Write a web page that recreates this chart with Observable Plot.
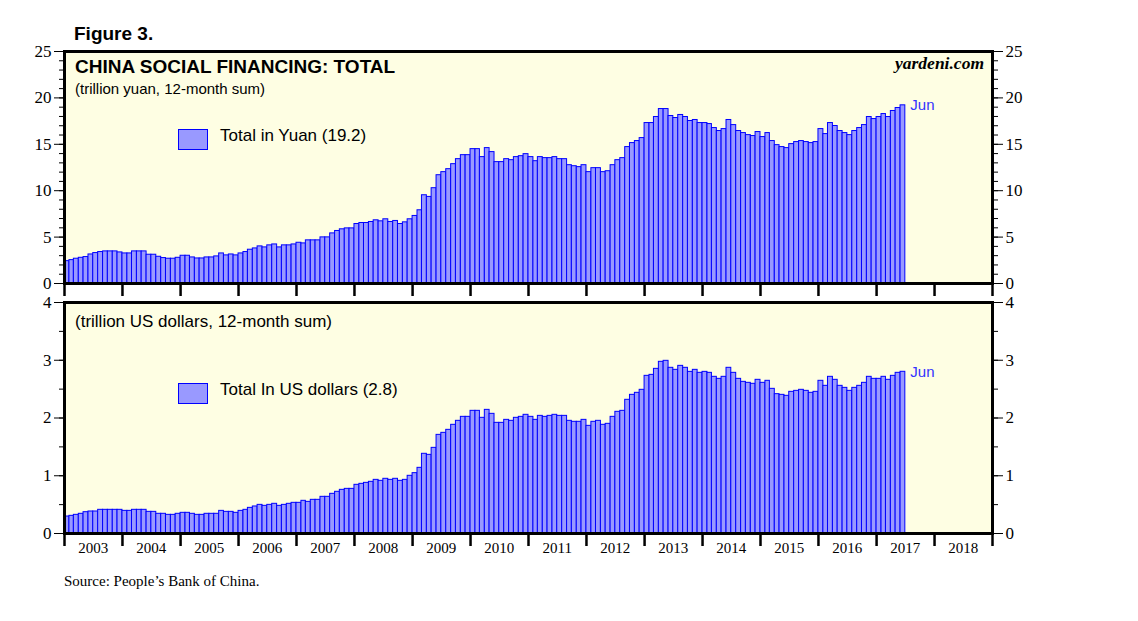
<!DOCTYPE html>
<html><head><meta charset="utf-8">
<script src="https://cdn.jsdelivr.net/npm/d3@7"></script>
<script src="https://cdn.jsdelivr.net/npm/@observablehq/plot@0.6"></script>
<style>
body{margin:0;background:#fff;}
#wrap{position:relative;width:1138px;height:621px;overflow:hidden;background:#fff;font-family:Arial,"Liberation Sans",sans-serif;}
.abs{position:absolute;white-space:nowrap;line-height:1;}
.swatch{position:absolute;width:28px;height:19px;background:#9999FF;border:1px solid #0000FF;}
#p1,#p2{position:absolute;left:0;}
#wrap svg g[aria-label="y-axis tick label"]{font-size:17px;}
#wrap svg g[aria-label="x-axis tick label"]{font-size:15px;}
</style></head><body>
<div id="wrap">
  <div id="p1" style="top:0"></div>
  <div id="p2" style="top:298px"></div>
  <div class="abs" style="left:74px;top:24px;font-size:19px;font-weight:bold;">Figure 3.</div>
  <div class="abs" style="left:75px;top:57px;font-size:19px;font-weight:bold;">CHINA SOCIAL FINANCING: TOTAL</div>
  <div class="abs" style="left:75px;top:81px;font-size:15px;">(trillion yuan, 12-month sum)</div>
  <div class="abs" style="right:154px;top:55px;font-size:17.5px;font-weight:bold;font-style:italic;font-family:'Liberation Serif','Times New Roman',serif;">yardeni.com</div>
  <div class="swatch" style="left:178px;top:129px;"></div>
  <div class="abs" style="left:220px;top:127px;font-size:17px;">Total in Yuan (19.2)</div>
  <div class="abs" style="left:75px;top:313px;font-size:17px;">(trillion US dollars, 12-month sum)</div>
  <div class="swatch" style="left:178px;top:383px;"></div>
  <div class="abs" style="left:220px;top:381px;font-size:17px;">Total In US dollars (2.8)</div>
  <div class="abs" style="left:64px;top:574px;font-size:15px;font-family:'Liberation Serif','Times New Roman',serif;">Source: People’s Bank of China.</div>
</div>
<script>
const firstMonth = "2003-01-01";
const yuanValues = [
 2.41, 2.52, 2.67, 2.77, 2.85, 3.13, 3.28, 3.39, 3.46, 3.46, 3.46, 3.35,
 3.24, 3.24, 3.46, 3.46, 3.46, 3.10, 3.10, 2.88, 2.74, 2.67, 2.67, 2.77,
 2.99, 2.99, 2.81, 2.70, 2.70, 2.81, 2.81, 2.92, 3.24, 3.03, 3.13, 3.03,
 3.24, 3.39, 3.64, 3.78, 4.00, 3.89, 4.11, 4.21, 3.89, 4.11, 4.11, 4.21,
 4.39, 4.32, 4.65, 4.65, 4.65, 4.97, 4.97, 5.40, 5.66, 5.84, 5.94, 5.94,
 6.41, 6.52, 6.52, 6.63, 6.81, 6.70, 6.92, 6.63, 6.74, 6.41, 6.59, 6.92,
 7.28, 7.89, 9.51, 9.33, 10.27, 11.67, 12.00, 12.32, 12.86, 13.40, 13.83, 13.83,
 14.48, 14.48, 13.62, 14.59, 14.16, 13.08, 13.08, 13.40, 13.29, 13.62, 13.72, 13.94,
 13.62, 13.18, 13.62, 13.51, 13.51, 13.62, 13.40, 13.40, 12.75, 12.64, 12.54, 12.75,
 12.00, 12.43, 12.43, 12.00, 12.10, 12.75, 13.29, 13.51, 14.70, 15.13, 15.35, 15.67,
 17.29, 17.29, 17.94, 18.80, 18.80, 18.05, 17.83, 18.16, 17.94, 17.51, 17.62, 17.29,
 17.29, 17.18, 16.75, 16.43, 16.64, 17.62, 17.07, 16.43, 16.21, 15.99, 15.89, 16.32,
 15.78, 16.21, 15.35, 14.91, 14.70, 14.59, 15.02, 15.24, 15.35, 15.24, 15.13, 15.24,
 16.64, 16.10, 17.29, 16.97, 16.43, 16.21, 15.99, 16.43, 16.75, 17.07, 17.94, 17.72,
 17.94, 18.26, 17.94, 18.59, 18.91, 19.2
];
const usdValues = [
 0.294, 0.306, 0.323, 0.341, 0.369, 0.381, 0.381, 0.41, 0.41, 0.41, 0.41, 0.41,
 0.392, 0.392, 0.41, 0.41, 0.41, 0.375, 0.375, 0.341, 0.341, 0.323, 0.323, 0.341,
 0.358, 0.358, 0.341, 0.323, 0.323, 0.341, 0.341, 0.341, 0.392, 0.375, 0.375, 0.358,
 0.392, 0.41, 0.444, 0.468, 0.496, 0.479, 0.496, 0.514, 0.479, 0.496, 0.514, 0.531,
 0.531, 0.566, 0.548, 0.583, 0.583, 0.635, 0.635, 0.687, 0.722, 0.756, 0.773, 0.773,
 0.843, 0.86, 0.877, 0.895, 0.929, 0.912, 0.947, 0.929, 0.947, 0.912, 0.929, 0.999,
 1.045, 1.137, 1.38, 1.362, 1.483, 1.708, 1.743, 1.795, 1.882, 1.951, 2.02, 2.02,
 2.124, 2.124, 2.003, 2.141, 2.072, 1.916, 1.916, 1.968, 1.951, 2.003, 2.02, 2.055,
 2.02, 1.968, 2.037, 2.02, 2.037, 2.055, 2.037, 2.037, 1.951, 1.934, 1.934, 1.968,
 1.864, 1.934, 1.951, 1.882, 1.899, 2.02, 2.107, 2.124, 2.315, 2.401, 2.436, 2.488,
 2.73, 2.747, 2.851, 2.973, 2.99, 2.869, 2.834, 2.903, 2.869, 2.799, 2.834, 2.782,
 2.799, 2.782, 2.713, 2.678, 2.713, 2.869, 2.782, 2.678, 2.626, 2.609, 2.592, 2.661,
 2.609, 2.644, 2.505, 2.413, 2.401, 2.384, 2.453, 2.47, 2.488, 2.47, 2.436, 2.453,
 2.644, 2.557, 2.713, 2.661, 2.557, 2.522, 2.47, 2.522, 2.557, 2.609, 2.713, 2.678,
 2.678, 2.713, 2.661, 2.73, 2.782, 2.8
];
const yearBoundaries = d3.range(2003, 2020);
const yearLabels = d3.range(2003, 2019);
const yuanMajorTicks = [0, 5, 10, 15, 20, 25];
const yuanMinorTicks = d3.range(0, 26, 1);
const usdMajorTicks = [0, 1, 2, 3, 4];
const usdMinorTicks = d3.range(0, 4.01, 0.5);
const lastLabel = "Jun";

const start = new Date(firstMonth);
const rows = yuanValues.map((v, i) => {
  const m = d3.utcMonth.offset(start, i);
  return {x1: m, x2: d3.utcMonth.offset(m, 1), yuan: v, usd: usdValues[i]};
});
const last = [rows[rows.length - 1]];
const boundaryDates = yearBoundaries.map(y => new Date(Date.UTC(y, 0, 1)));
const midDates = yearLabels.map(y => new Date(Date.UTC(y, 6, 1)));
const intFmt = d3.format("d");

function panel({key, domain, major, minor, height, marginTop, marginBottom, labels}) {
  const marks = [
    Plot.frame({fill: "#FEFEE3", stroke: null}),
    Plot.rectY(rows, {x1: "x1", x2: "x2", y: key, fill: "#9999FF", stroke: "#0000FF", strokeWidth: 1}),
    Plot.text(last, {x: "x2", y: key, text: () => lastLabel, dx: 5, textAnchor: "start", fill: "#3333FF", fontSize: 15, fontFamily: "Arial, 'Liberation Sans', sans-serif"}),
    Plot.axisY(major, {anchor: "left", tickSize: 10, tickPadding: 3, tickFormat: intFmt, label: null}),
    Plot.axisY(minor, {anchor: "left", tickSize: 5, tickFormat: () => "", label: null}),
    Plot.axisY(major, {anchor: "right", tickSize: 10, tickPadding: 3, tickFormat: intFmt, label: null}),
    Plot.axisY(minor, {anchor: "right", tickSize: 5, tickFormat: () => "", label: null}),
    Plot.axisX(boundaryDates, {anchor: "bottom", tickSize: 13, strokeWidth: 2.5, tickFormat: () => "", label: null}),
    Plot.frame({stroke: "black", strokeWidth: 3})
  ];
  if (labels) marks.push(Plot.axisX(midDates, {anchor: "bottom", tickSize: 0, tickPadding: 9, tickFormat: d3.utcFormat("%Y"), label: null}));
  return Plot.plot({
    width: 1138, height, marginTop, marginBottom, marginLeft: 64, marginRight: 146,
    style: {background: "transparent", fontFamily: "'Liberation Serif','Times New Roman',serif", fontSize: "15px", color: "black", overflow: "visible"},
    x: {type: "utc", domain: [boundaryDates[0], boundaryDates[boundaryDates.length - 1]]},
    y: {domain, label: null},
    marks
  });
}

document.getElementById("p1").append(panel({key: "yuan", domain: [0, 25], major: yuanMajorTicks, minor: yuanMinorTicks, height: 298, marginTop: 51, marginBottom: 15, labels: false}));
document.getElementById("p2").append(panel({key: "usd", domain: [0, 4], major: usdMajorTicks, minor: usdMinorTicks, height: 282, marginTop: 4, marginBottom: 47, labels: true}));
</script>
</body></html>
